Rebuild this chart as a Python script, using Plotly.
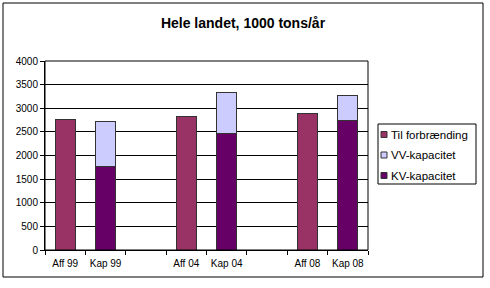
import plotly.graph_objects as go

categories = ["Aff 99", "Kap 99", " ", "Aff 04", "Kap 04", "  ", "Aff 08", "Kap 08"]
til_forbraending = [2770, None, None, 2830, None, None, 2890, None]
kv_kapacitet = [None, 1770, None, None, 2475, None, None, 2745]
vv_kapacitet = [None, 940, None, None, 855, None, None, 520]
y_ticks = [0, 500, 1000, 1500, 2000, 2500, 3000, 3500, 4000]
series_names = ["Til forbrænding", "VV-kapacitet", "KV-kapacitet"]
series_colors = ["#993366", "#CCCCFF", "#660066"]

font = "Arial, Liberation Sans, sans-serif"
line = dict(color="#333333", width=1)

fig = go.Figure()
fig.add_bar(x=categories, y=til_forbraending, name=series_names[0],
            marker=dict(color=series_colors[0], line=line))
fig.add_bar(x=categories, y=kv_kapacitet, name=series_names[2],
            marker=dict(color=series_colors[2], line=line))
fig.add_bar(x=categories, y=vv_kapacitet, name=series_names[1],
            marker=dict(color=series_colors[1], line=line))

W, H = 490, 288
L, R, T, B = 45, 368, 61, 250
pw, ph = R - L, B - T

def px(x):
    return (x - L) / pw

def py(y):
    return (B - y) / ph

shapes = [
    dict(type="rect", xref="paper", yref="paper", x0=0, x1=1, y0=0, y1=1,
         line=dict(color="black", width=1), layer="above"),
    dict(type="rect", xref="paper", yref="paper", x0=px(3), x1=px(483),
         y0=py(277), y1=py(3), line=dict(color="black", width=1)),
    dict(type="rect", xref="paper", yref="paper", x0=px(378), x1=px(476),
         y0=py(184), y1=py(124), line=dict(color="black", width=1),
         fillcolor="white", layer="below"),
]
annotations = []
entry_y = [134.5, 155, 175.5]
for name, color, yy in zip(series_names, series_colors, entry_y):
    shapes.append(dict(type="rect", xref="paper", yref="paper",
                       x0=px(381), x1=px(387), y0=py(yy + 3), y1=py(yy - 3),
                       fillcolor=color, line=dict(color="#333333", width=1)))
    annotations.append(dict(text=name, xref="paper", yref="paper", x=px(388.5), y=py(yy),
                            xanchor="left", yanchor="middle", showarrow=False,
                            font=dict(size=11.5, family=font, color="black")))

fig.update_layout(
    width=W, height=H,
    margin=dict(l=L, r=W - R, t=T, b=H - B, autoexpand=False),
    barmode="stack", bargap=0.5,
    plot_bgcolor="white", paper_bgcolor="white",
    font=dict(family=font, size=10, color="black"),
    title=dict(text="<b>Hele landet, 1000 tons/år</b>", x=243 / W, xanchor="center",
               xref="container", yref="container", y=1 - 23 / H, yanchor="middle",
               font=dict(size=14, family=font, color="black")),
    showlegend=False,
    xaxis=dict(categoryorder="array", categoryarray=categories, type="category",
               tickson="boundaries", ticks="outside", ticklen=4, tickcolor="black",
               showline=True, linecolor="black", linewidth=1, showgrid=False,
               tickangle=0, automargin=False, ticklabelstandoff=4,
               tickfont=dict(size=10), range=[-0.5, len(categories) - 0.5]),
    yaxis=dict(range=[0, 4000], tickvals=y_ticks, ticks="outside", ticklen=4,
               tickcolor="black", showline=True, linecolor="black", linewidth=1,
               showgrid=True, gridcolor="black", gridwidth=1, zeroline=False,
               automargin=False, tickfont=dict(size=10)),
    shapes=shapes,
    annotations=annotations,
)

fig.write_html("out.html")
